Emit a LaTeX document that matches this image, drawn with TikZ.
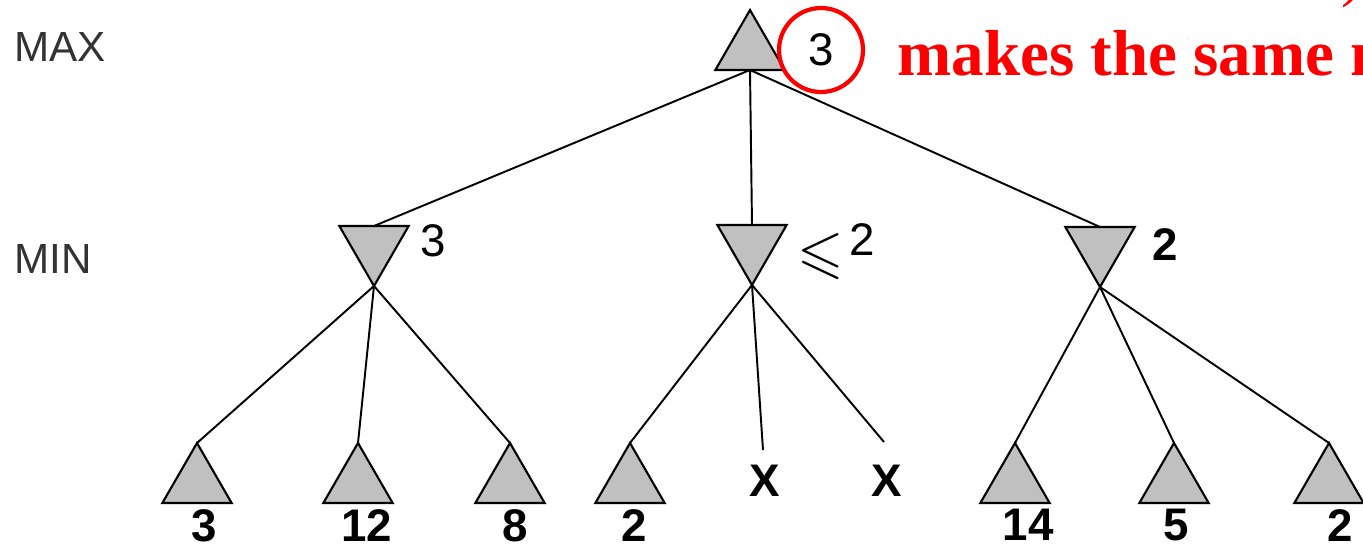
\documentclass[tikz,border=0pt]{standalone}
\usepackage{fontspec}
\setmainfont{Liberation Sans}
\newfontfamily\serifface{Liberation Serif}
\usepackage{amssymb}
\usetikzlibrary{shapes.geometric, positioning}
\definecolor{alertred}{RGB}{255,0,0}
\definecolor{nodegray}{RGB}{192,192,192}

\begin{document}
\begin{tikzpicture}[x=0.02cm, y=-0.02cm,
  MX/.style  ={regular polygon, regular polygon sides=3, draw, fill=nodegray,
               line width=1.2pt, minimum size=1.6cm, inner sep=0pt, outer sep=0pt},
  MN/.style  ={MX, shape border rotate=180},
  ED/.style  ={line width=1.1pt},
  VAL/.style ={font=\fontsize{26}{28}\selectfont\bfseries, inner sep=0pt},
  NUM/.style ={font=\fontsize{26}{28}\selectfont, inner sep=0pt},
  LVL/.style ={font=\fontsize{24}{26}\selectfont, text=black!80, inner sep=0pt, anchor=west}
]
  \clip (0,0) rectangle (1363,548);

  % level names
  \node[LVL] (lmax) at (14,47) {MAX};
  \node[LVL] (lmin) at (14,259) {MIN};

  % root and its value
  \node[MX, anchor=north] (r) at (750,10) {};
  \node[NUM, circle, draw=alertred, line width=2.4pt, minimum size=1.68cm] (rc) at (821,50) {3};
  \node[font=\fontsize{37}{40}\serifface\bfseries, text=alertred, anchor=base west, inner sep=0pt]
    (msg) at (897,75) {makes the same m};
  \node[font=\fontsize{36}{40}\serifface, text=alertred, anchor=south, inner sep=0pt]
    (brk) at (1352,8) {)};

  % MIN level
  \node[MN, anchor=north] (m1) at (374,226) {};
  \node[MN, anchor=north] (m2) at (752,225) {};
  \node[MN, anchor=north] (m3) at (1100,227) {};
  \node[NUM] (v1) at (433,241) {3};
  \node[NUM, font=\fontsize{34}{36}\selectfont] (v2le) at (821,257) {$\leqslant$};
  \node[NUM] (v2) at (862,240) {2};
  \node[VAL] (v3) at (1165,245) {2};

  % leaves
  \foreach \n/\x/\lx/\v in {l1/197/204/3, l2/358/367/12, l3/510/515/8, l4/630/634/2,
                             l5/1015/1028/14, l6/1174/1176/5, l7/1329/1340/2} {
    \node[MX, anchor=north] (\n) at (\x,443) {};
    \node[VAL, anchor=north] (\n v) at (\lx,509) {\v};
  }

  % pruned branches
  \coordinate (c1) at (763,450);
  \coordinate (c2) at (884,442);
  \node[VAL] (x1) at (765,481) {X};
  \node[VAL] (x2) at (887,481) {X};

  \foreach \a/\b in {r/m1,r/m2,r/m3,m1/l1,m1/l2,m1/l3,m2/l4,m3/l5,m3/l6,m3/l7}
    \draw[ED] (\a.south)--(\b.north);
  \draw[ED] (m2.south)--(c1);
  \draw[ED] (m2.south)--(c2);
\end{tikzpicture}
\end{document}
